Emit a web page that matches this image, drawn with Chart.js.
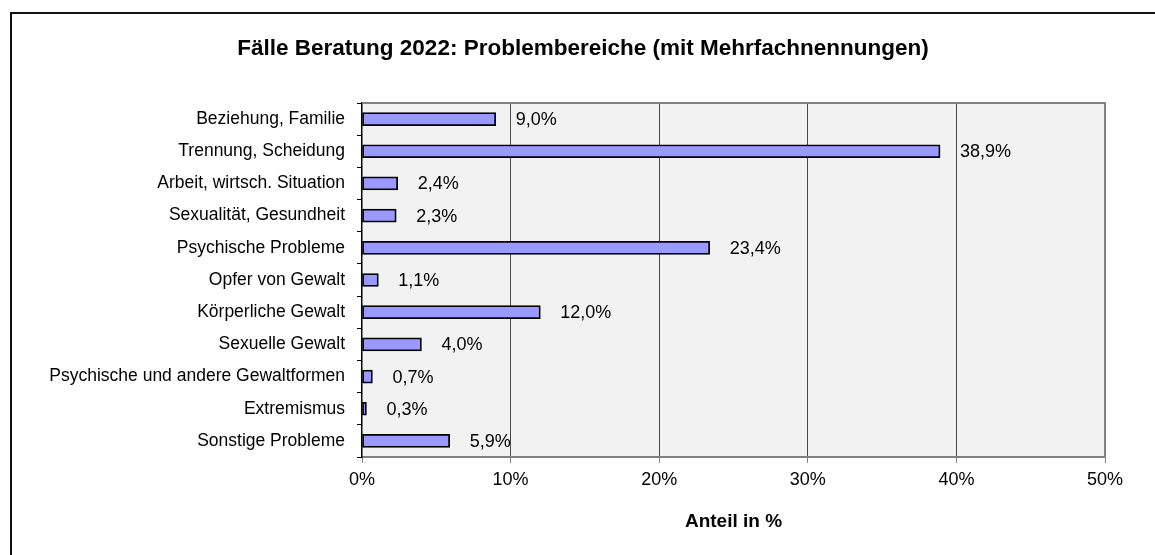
<!DOCTYPE html>
<html>
<head>
<meta charset="utf-8">
<script src="https://cdn.jsdelivr.net/npm/chart.js@4/dist/chart.umd.min.js"></script>
<style>
    body { margin: 0; background: #fff; }
    #frame {
        position: absolute; left: 10px; top: 12px; width: 1300px; height: 700px;
        border-left: 2px solid #111; border-top: 2px solid #111;
    }
    #wrap { position: absolute; left: 0; top: 0; width: 1155px; height: 555px; }
</style>
</head>
<body>
<div id="frame"></div>
<div id="wrap"><canvas id="problemChart" width="1155" height="555"></canvas></div>
<script>
const categories = [
    'Beziehung, Familie',
    'Trennung, Scheidung',
    'Arbeit, wirtsch. Situation',
    'Sexualität, Gesundheit',
    'Psychische Probleme',
    'Opfer von Gewalt',
    'Körperliche Gewalt',
    'Sexuelle Gewalt',
    'Psychische und andere Gewaltformen',
    'Extremismus',
    'Sonstige Probleme'
];
const shares = [9.0, 38.9, 2.4, 2.3, 23.4, 1.1, 12.0, 4.0, 0.7, 0.3, 5.9];
const xTicks = [0, 10, 20, 30, 40, 50];

const FONT = 'Liberation Sans, Arial, sans-serif';

// grauer Hintergrund + Rahmen oben/rechts
const plotArea = {
    id: 'plotArea',
    beforeDraw(chart) {
        const { ctx, chartArea: a } = chart;
        ctx.save();
        ctx.fillStyle = '#f2f2f2';
        ctx.fillRect(a.left, a.top, a.right - a.left, a.bottom - a.top);
        ctx.restore();
    },
    afterDraw(chart) {
        const { ctx, chartArea: a } = chart;
        ctx.save();
        ctx.strokeStyle = '#808080';
        ctx.lineWidth = 2;
        ctx.beginPath();
        ctx.moveTo(a.left, a.top);
        ctx.lineTo(a.right, a.top);
        ctx.lineTo(a.right, a.bottom);
        ctx.stroke();
        ctx.restore();
    }
};

const valueLabels = {
    id: 'valueLabels',
    afterDatasetsDraw(chart) {
        const { ctx } = chart;
        const meta = chart.getDatasetMeta(0);
        ctx.save();
        ctx.font = '18px ' + FONT;
        ctx.fillStyle = '#000';
        ctx.textBaseline = 'middle';
        meta.data.forEach((bar, i) => {
            const txt = shares[i].toFixed(1).replace('.', ',') + '%';
            ctx.fillText(txt, bar.x + 20, bar.y + 1);
        });
        ctx.restore();
    }
};

const ctx = document.getElementById('problemChart').getContext('2d');
const problemChart = new Chart(ctx, {
    type: 'bar',
    data: {
        labels: categories,
        datasets: [{
            data: shares,
            backgroundColor: '#9999ff',
            borderColor: '#000',
            borderWidth: 1.75,
            borderSkipped: false,
            barThickness: 13
        }]
    },
    options: {
        indexAxis: 'y',
        responsive: false,
        animation: false,
        layout: { padding: { left: 11, right: 0, top: 0, bottom: 0 } },
        plugins: {
            legend: { display: false },
            tooltip: { enabled: false },
            title: {
                display: true,
                text: 'Fälle Beratung 2022: Problembereiche (mit Mehrfachnennungen)',
                color: '#000',
                font: { family: FONT, size: 22.5, weight: 'bold' },
                padding: { top: 35.5, bottom: 40.5 }
            }
        },
        scales: {
            x: {
                min: 0,
                max: 50,
                afterBuildTicks: (scale) => { scale.ticks = xTicks.map(v => ({ value: v })); },
                afterFit: (scale) => { scale.height = 98; },
                ticks: {
                    color: '#000',
                    font: { family: FONT, size: 18 },
                    padding: 6,
                    callback: (v) => v + '%'
                },
                grid: {
                    color: (c) => (c.tick && (c.tick.value === 0 || c.tick.value === 50)) ? 'rgba(0,0,0,0)' : '#4a4a4a',
                    tickColor: '#808080',
                    tickLength: 6
                },
                border: { color: '#808080', width: 2 },
                title: {
                    display: true,
                    text: 'Anteil in %',
                    color: '#000',
                    font: { family: FONT, size: 19, weight: 'bold' },
                    padding: { top: 0, bottom: 21.5 }
                }
            },
            y: {
                afterFit: (scale) => { scale.width = 351; },
                ticks: {
                    color: '#000',
                    font: { family: FONT, size: 17.5 },
                    padding: 12
                },
                grid: {
                    drawOnChartArea: false,
                    color: '#000',
                    tickLength: 5
                },
                border: { color: '#000', width: 1.5 }
            },
            // leerer Rand rechts, damit der Titel mittig über dem Rahmen sitzt
            yRight: {
                type: 'linear',
                position: 'right',
                afterFit: (scale) => { scale.width = 50; },
                ticks: { display: false },
                grid: { display: false },
                border: { display: false }
            }
        }
    },
    plugins: [plotArea, valueLabels]
});
</script>
</body>
</html>
